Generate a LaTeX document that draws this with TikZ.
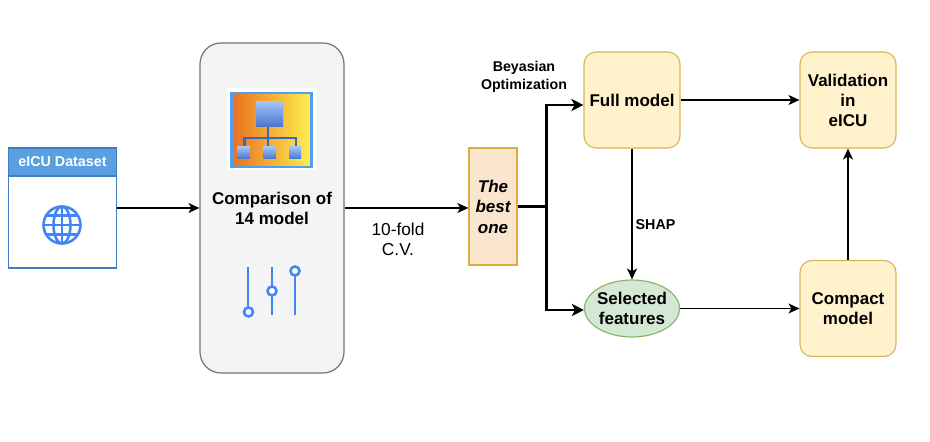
\documentclass[tikz,border=0pt]{standalone}
\usepackage{fontspec}
\setmainfont{Liberation Sans}
\usetikzlibrary{arrows.meta,shapes.geometric}
\definecolor{hdrblue}{HTML}{5B9FE3}
\definecolor{hdredge}{HTML}{3F7CC4}
\definecolor{gblue}{HTML}{4285F4}
\definecolor{yfill}{HTML}{FFF2CC}
\definecolor{yedge}{HTML}{D6B656}
\definecolor{ofill}{HTML}{FAE6CF}
\definecolor{oedge}{HTML}{D9AE3F}
\definecolor{gfill}{HTML}{D5E8D4}
\definecolor{gedge}{HTML}{82B366}
\definecolor{iconorange}{HTML}{E8701F}
\definecolor{iconyellow}{HTML}{FFF050}
\definecolor{iconborder}{HTML}{4F9FF5}
\definecolor{sqtop}{HTML}{A0C4F8}
\definecolor{sqbot}{HTML}{4A72CC}
\definecolor{linkblue}{HTML}{3F66B8}
\tikzset{
  x=1pt,y=1pt,
  conn/.style={draw=black,line width=1.1pt,-{Stealth[length=11pt,width=10pt,inset=3pt]}},
  thick conn/.style={draw=black,line width=2.3pt,-{Stealth[length=12pt,width=12pt,inset=3pt]}},
  roundbox/.style={draw=yedge,fill=yfill,rounded corners=12pt,line width=1.1pt,minimum width=96pt,minimum height=96pt,align=center,inner sep=0pt,font=\bfseries\fontsize{17}{20}\selectfont},
  lab/.style={align=center,inner sep=0pt,text=black},
  slider/.style={draw=gblue,line width=2.8pt},
  knob/.style={circle,draw=gblue,fill=white,line width=2.6pt,minimum size=9pt,inner sep=0pt},
  smallsq/.style={top color=sqtop,bottom color=sqbot,draw=none,minimum width=13pt,minimum height=12pt,inner sep=0pt},
}
\begin{document}
\begin{tikzpicture}
\useasboundingbox (0,0) rectangle (930,442);
% dataset card
\node[draw=hdredge,fill=white,line width=1.1pt,minimum width=108pt,minimum height=120pt,inner sep=0pt] (data) at (62.5,234) {};
\node[draw=hdredge,fill=hdrblue,line width=1.1pt,minimum width=108pt,minimum height=28pt,inner sep=0pt,text=white,font=\bfseries\fontsize{14.3}{15}\selectfont] (datahead) at (62.5,280) {eICU Dataset};
% globe
\begin{scope}[draw=gblue,line width=2.6pt]
\draw (62,217) circle (18.5);
\draw (62,217) ellipse (8.5 and 18.5);
\draw (62,199) -- (62,235);
\draw (44,217) -- (80,217);
\draw (47,226.5) -- (77,226.5);
\draw (47,207.5) -- (77,207.5);
\end{scope}
% big box
\node[draw=black!55,fill=black!4.5,line width=1.2pt,rounded corners=21pt,minimum width=144pt,minimum height=330pt,inner sep=0pt] (cmp) at (272,234) {};
% tree icon
\fill[white] (227,272) rectangle (317,354);
\draw[iconborder,line width=2.8pt,left color=iconorange,right color=iconyellow] (231.5,275) rectangle (311.5,349);
\draw[linkblue,line width=2.4pt] (268,315) -- (268,295);
\draw[linkblue,line width=2.4pt] (244.5,295) -- (244.5,304) -- (296,304) -- (296,295);
\node[smallsq,minimum width=27pt,minimum height=25pt] (t0) at (269.5,327.5) {};
\node[smallsq] (t1) at (243.5,289) {};
\node[smallsq] (t2) at (269.5,289) {};
\node[smallsq,minimum width=12pt] (t3) at (295,289) {};
\node[lab,font=\bfseries\fontsize{17}{20}\selectfont] (cmptxt) at (272,234) {Comparison of\\14 model};
% sliders
\draw[slider] (248,175) -- (248,130);
\draw[slider] (272,175) -- (272,127);
\draw[slider] (295,175) -- (295,127);
\node[knob] (k1) at (248.5,130) {};
\node[knob] (k2) at (272,151) {};
\node[knob] (k3) at (295,171) {};
% process nodes
\node[draw=oedge,fill=ofill,line width=1.3pt,minimum width=48pt,minimum height=117pt,inner sep=0pt,align=center,font=\bfseries\itshape\fontsize{17}{20.5}\selectfont] (best) at (493,235.5) {The\\best\\one};
\node[roundbox] (full) at (632,342) {Full model};
\node[roundbox] (valid) at (848,342) {Validation\\in\\eICU};
\node[roundbox] (compact) at (848,133.5) {Compact\\model};
\node[ellipse,draw=gedge,fill=gfill,line width=1.1pt,minimum width=95pt,minimum height=57pt,inner xsep=-1.5pt,inner ysep=0pt,align=center,font=\bfseries\fontsize{17}{20}\selectfont] (sel) at (632,133.5) {Selected\\features};
% free labels
\node[lab,font=\fontsize{17.3}{20}\selectfont] (cv) at (398,203) {10-fold\\C.V.};
\node[lab,font=\bfseries\fontsize{14.2}{18}\selectfont] (bo) at (524,365) {Beyasian\\Optimization};
\node[lab,font=\bfseries\fontsize{14.3}{14}\selectfont] (shap) at (655.5,217) {SHAP};
% connectors
\coordinate (j) at (546.5,235.5);
\coordinate (fullin) at (full.west|-0,337);
\coordinate (selin) at (sel.west|-0,132);
\coordinate (jtop) at (j|-fullin);
\coordinate (jbot) at (j|-selin);
\draw[conn] (data.east|-0,234) -- (cmp.west|-0,234);
\draw[conn] (cmp.east|-0,234) -- (best.west|-0,234);
\draw[line width=2.3pt] (best.east|-j) -- (j);
\draw[thick conn] (j) -- (jtop) -- (fullin);
\draw[thick conn] (j) -- (jbot) -- (selin);
\draw[conn] (full.east|-0,342) -- (valid.west|-0,342);
\draw[conn] (full.south) -- (sel.north);
\draw[conn] (sel.east) -- (compact.west);
\draw[conn] (compact.north) -- (valid.south);
\end{tikzpicture}
\end{document}
